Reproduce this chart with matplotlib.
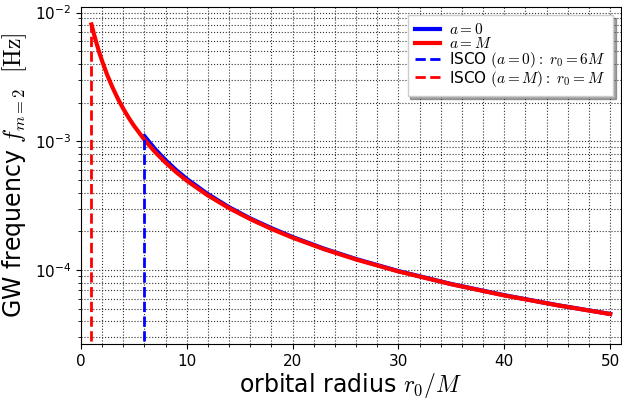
import numpy as np
import matplotlib
matplotlib.use("Agg")
import matplotlib.pyplot as plt
from matplotlib.ticker import MultipleLocator

plt.rcParams['mathtext.fontset'] = 'cm'

# -------------------------
# data
# -------------------------
# a = M (extremal Kerr), r0/M from ISCO (r0 = M) out to 50
r_kerr = [1, 1.25, 1.5, 1.75, 2, 2.5, 3, 3.5, 4, 4.5, 5, 6, 7, 8, 9, 10,
          12, 14, 16, 18, 20, 23, 26, 30, 35, 40, 45, 50]
f_kerr = [8.08e-3, 6.74e-3, 5.70e-3, 4.87e-3, 4.22e-3, 3.26e-3, 2.61e-3,
          2.14e-3, 1.795e-3, 1.532e-3, 1.327e-3, 1.029e-3, 8.28e-4, 6.84e-4,
          5.77e-4, 4.95e-4, 3.80e-4, 3.03e-4, 2.49e-4, 2.09e-4, 1.787e-4,
          1.452e-4, 1.210e-4, 9.77e-5, 7.77e-5, 6.36e-5, 5.34e-5, 4.56e-5]

# a = 0 (Schwarzschild), from ISCO (r0 = 6M) out to 50
r_schw = [6, 7, 8, 9, 10, 12, 14, 16, 18, 20, 23, 26, 30, 35, 40, 45, 50]
f_schw = [1.099e-3, 8.72e-4, 7.14e-4, 5.98e-4, 5.11e-4, 3.89e-4, 3.08e-4,
          2.52e-4, 2.12e-4, 1.807e-4, 1.465e-4, 1.219e-4, 9.83e-5, 7.80e-5,
          6.39e-5, 5.35e-5, 4.57e-5]

r_isco_schw = 6
r_isco_kerr = 1
y_bottom = 2.8e-5

# -------------------------
# plot
# -------------------------
fig, ax = plt.subplots(figsize=(6.22, 4.0), dpi=100)

ax.plot(r_schw, f_schw, color='b', lw=3, label=r'$a=0$')
ax.plot(r_kerr, f_kerr, color='r', lw=3, label=r'$a=M$')
ax.plot([r_isco_schw, r_isco_schw], [y_bottom, f_schw[0]], 'b--', lw=2,
        label=r'ISCO $(a=0):\ r_0=6M$')
ax.plot([r_isco_kerr, r_isco_kerr], [y_bottom, f_kerr[0]], 'r--', lw=2,
        label=r'ISCO $(a=M):\ r_0=M$')

ax.set_yscale('log')
ax.set_xlim(0, 51)
ax.set_ylim(2.67e-5, 1.1e-2)
ax.xaxis.set_minor_locator(MultipleLocator(2))

# grey solid lines under a dotted overlay, both major and minor
ax.grid(True, which='both', color='#c8c8c8', ls='-', lw=0.8)
ax.grid(True, which='both', color='#333333', ls=':', lw=0.8)
ax.set_axisbelow(True)

ax.set_xlabel(r'orbital radius $r_0/M$', fontsize=17, labelpad=2)
ax.set_ylabel(r'GW frequency $f_{m=2}$  $[\mathrm{Hz}]$', fontsize=17)
ax.tick_params(labelsize=11)

ax.legend(loc='upper right', fontsize=11, shadow=True, fancybox=False,
          framealpha=1, edgecolor='#cccccc', borderaxespad=0.5,
          labelspacing=-0.08, handlelength=1.6, handletextpad=0.6,
          borderpad=0.5)

fig.subplots_adjust(left=0.13, right=0.998, top=0.982, bottom=0.14)
fig.savefig('out.png', dpi=100)
